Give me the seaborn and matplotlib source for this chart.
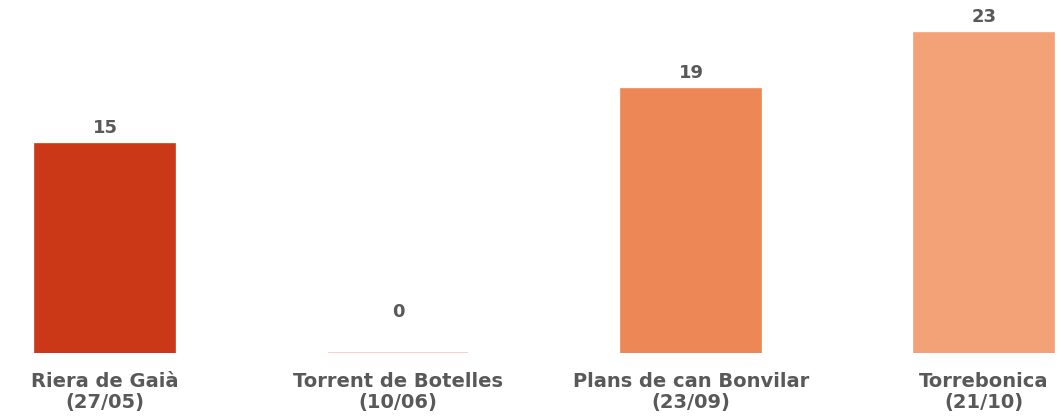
import matplotlib
matplotlib.use("Agg")
import matplotlib.pyplot as plt
import seaborn as sns
import pandas as pd

# data
places = ["Riera de Gaià\n(27/05)", "Torrent de Botelles\n(10/06)",
          "Plans de can Bonvilar\n(23/09)", "Torrebonica\n(21/10)"]
counts = [15, 0, 19, 23]
colors = ["#CB3817", "#F4C8BB", "#EE8756", "#F3A277"]

sns.set_style("white")
plt.rcParams['font.family'] = ['DejaVu Sans']

df = pd.DataFrame({'place': places, 'count': counts})

fig = plt.figure(figsize=(10.61, 4.19), dpi=100)
ax = fig.add_axes([0, 66 / 419, 1, 353 / 419])

sns.barplot(data=df, x='place', y='count', hue='place', palette=colors,
            width=0.478, legend=False, ax=ax, saturation=1)

for patch, c in zip(ax.patches, colors):
    patch.set_edgecolor(c)
    patch.set_linewidth(1.2)

for i, v in enumerate(counts):
    pad = 23 if v == 0 else 5
    ax.annotate(str(v), (i, v), xytext=(0, pad), textcoords='offset points',
                ha='center', va='bottom', fontsize=13, fontweight='bold',
                color='#595959')

ax.set_xlim((0 - 105) / 293, (1061 - 105) / 293)
ax.set_ylim(0, 353 / 13.91)
ax.set_xlabel('')
ax.set_ylabel('')
ax.set_yticks([])
ax.tick_params(axis='x', length=0, pad=14, labelsize=14, labelcolor='#595959')
for lbl in ax.get_xticklabels():
    lbl.set_fontweight('bold')
    lbl.set_linespacing(1.12)
sns.despine(ax=ax, left=True, bottom=True, top=True, right=True)

fig.savefig('out.png', dpi=100)
